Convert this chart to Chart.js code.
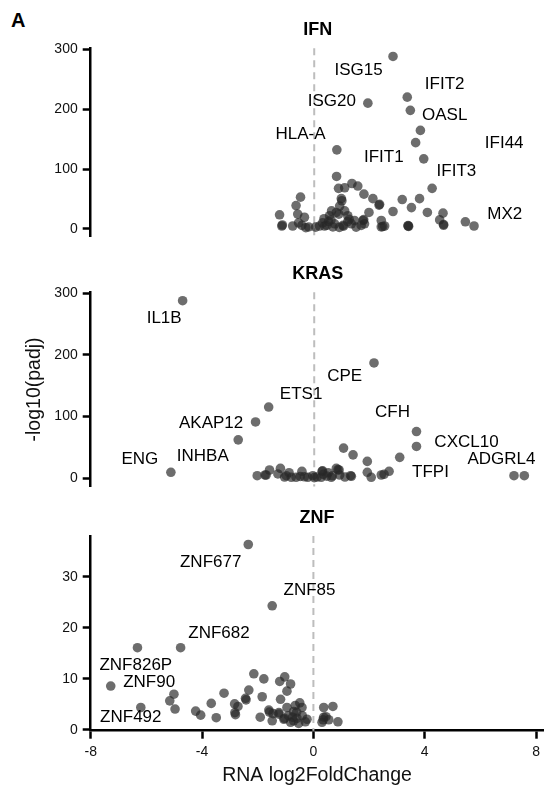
<!DOCTYPE html>
<html>
<head>
<meta charset="utf-8">
<script src="https://cdn.jsdelivr.net/npm/chart.js@4.4.1/dist/chart.umd.min.js"></script>
<style>
  html, body { margin: 0; padding: 0; background: #fff; }
  #page { position: relative; width: 545px; height: 789px; overflow: hidden; }
  canvas { position: absolute; left: 0; }
  #tag { position: absolute; left: 11px; top: 10px; font: bold 20px/20px "Liberation Sans", Arial, sans-serif; color: #000; }
</style>
</head>
<body>
<div id="page">
  <div id="tag">A</div>
  <canvas id="ifn" width="545" height="250" style="top:0"></canvas>
  <canvas id="kras" width="545" height="250" style="top:250px"></canvas>
  <canvas id="znf" width="545" height="289" style="top:500px"></canvas>
</div>
<script>
// shared x axis
const xTicks = [-8, -4, 0, 4, 8];

// IFN panel
const ifnX = [2.82, 1.92, 3.33, 3.44, 3.80, 3.63, 3.92, 0.81, 0.80, 4.22, 3.77, 3.15, 3.48, 2.82, 4.05, 4.61, 4.49, 4.63, 4.63,
  3.36, 3.36, 3.38, 5.41, 5.72, 2.40, 2.40, 2.45, 2.32, 2.34, 2.10, 1.78, 1.56, 1.35, 1.09, 0.87, 0.97, 0.99, 0.91, 0.79,
  1.96, 1.75, 1.77, 1.80, 1.44, 1.20, 1.33, 1.03, 1.05, 0.73, 0.55, 0.37, 0.19, 0.67, 0.51, -0.49, -0.65, -0.59, -0.35,
  -1.24, -1.16, -1.14, -0.77, -0.44, -0.20, -0.56, 2.52, 1.68, 0.88, 1.09, 0.30, 0.45, 0.60, 1.25, 1.50, 0.05, -0.30,
  0.90, 1.20, 0.35, 0.62];
const ifnY = [288, 210, 220, 198, 164.5, 144, 117, 132, 87.6, 67.7, 50.5, 49, 35.5, 29, 27.4, 26.3, 15, 7.4, 6,
  4.8, 5.5, 4.2, 11.8, 4.8, 14, 3.2, 4, 39.7, 41, 50.5, 58, 71.5, 75.8, 68.7, 67.7, 50.5, 47, 38, 27.4,
  27.4, 14, 15.5, 8.5, 14, 22, 8.5, 5.8, 4.5, 8.5, 22, 4.8, 4.8, 3.2, 12.3, 53, 39, 24.7, 19.4,
  23.5, 4.8, 6.5, 4.8, 5.8, 3.2, 10, 4.8, 5.8, 24.7, 30, 10, 6, 15, 16, 3, 3, 2,
  2.5, 12, 17, 30];
const ifnGenes = ["ISG15", "IFIT2", "ISG20", "OASL", "HLA-A", "IFI44", "IFIT1", "IFIT3", "MX2"];
const ifnGeneX = [1.59, 4.67, 0.63, 4.67, -0.49, 6.80, 2.49, 5.09, 6.82];
const ifnGeneY = [264, 241, 213, 190, 158, 143, 119, 96, 24.7];

// KRAS panel
const krasX = [-4.71, -1.63, -2.10, -2.72, -5.13, 2.14, 3.66, 3.66, 3.06, 7.15, 7.52, 1.05, 1.39, 1.90, 2.68, 2.40, 2.04,
  1.90, 1.30, 0.89, 0.28, -2.04, -1.72, -1.60, -1.21, -1.06, -0.82, -0.44, -0.23, 0.25, 0.61, 0.79, 1.33, -1.00, -0.65,
  -0.05, 0.32, 0.91, -1.76, -1.30, -0.50, 0.10, 0.45, 0.30, 0.85, -0.35, 0.65, 1.10, 2.50, -0.90, 0.00, 0.50];
const krasY = [288, 115.5, 91.3, 62.3, 9.7, 187, 75.8, 51.6, 33.9, 4.2, 4.2, 48.9, 38, 27.4, 11.3, 5.3, 1.6,
  9.7, 4.2, 13.4, 11.3, 4.2, 5.3, 13.4, 16, 2, 1.6, 11.3, 1.6, 1.6, 1.6, 16, 3.2, 4.2, 1.6,
  4.2, 6.3, 5.3, 5.3, 7, 3, 2, 3.5, 12, 14, 2.5, 4, 2, 6.5, 9, 1, 9];
const krasGenes = ["IL1B", "CPE", "ETS1", "AKAP12", "INHBA", "ENG", "CFH", "CXCL10", "TFPI", "ADGRL4"];
const krasGeneX = [-5.37, 1.09, -0.47, -3.69, -3.99, -6.24, 2.80, 5.45, 4.16, 6.70];
const krasGeneY = [259.7, 165.5, 136, 89, 35.5, 30, 106.5, 59, 9.7, 31];

// ZNF panel
const znfX = [-2.34, -1.48, -4.77, -6.32, -7.28, -6.20, -5.01, -5.16, -4.97, -4.23, -4.05, -3.67, -3.49, -3.21, -2.83,
  -2.82, -2.80, -2.71, -2.42, -2.44, -2.32, -2.14, -1.84, -1.78, -1.91, -1.60, -1.58, -1.48, -1.18, -1.03, -1.21, -0.82,
  -0.95, -1.24, -0.95, -0.49, -0.41, -1.24, -0.71, -1.06, -1.04, -0.71, -0.59, -0.29, -0.53, -0.82, -0.23, -0.90, -0.60,
  -0.40, -0.75, 0.37, 0.70, 0.37, 0.55, 0.88, 0.31, 0.35, 0.45, -1.45, -0.65];
const znfY = [36.3, 24.3, 16.1, 16.1, 8.6, 4.4, 7.0, 5.7, 4.1, 3.7, 2.9, 5.2, 2.4, 7.2, 5.1,
  3.4, 3.0, 4.6, 5.9, 6.2, 7.8, 11.0, 6.5, 10.0, 2.5, 3.9, 3.5, 1.8, 6.0, 10.4, 9.5, 9.0,
  7.6, 3.1, 4.4, 5.3, 4.4, 3.4, 3.6, 2.1, 2.3, 1.8, 2.3, 1.6, 1.3, 1.5, 2.1, 2.8, 3.5,
  2.8, 2.5, 4.4, 4.6, 2.5, 2.0, 1.6, 1.5, 2.0, 2.6, 3.2, 4.8];
const znfGenes = ["ZNF677", "ZNF85", "ZNF682", "ZNF826P", "ZNF90", "ZNF492"];
const znfGeneX = [-3.69, -0.14, -3.39, -6.38, -5.90, -6.56];
const znfGeneY = [32.9, 27.4, 19.0, 12.7, 9.3, 2.4];

const FONT = '"Liberation Sans", Arial, Helvetica, sans-serif';
const POINT_COLOR = "rgba(40, 40, 40, 0.68)";

// dashed zero line, panel title and gene labels
const panelDecor = {
    id: "panelDecor",
    beforeDatasetsDraw(chart, args, opts) {
        const { ctx, chartArea, scales } = chart;
        const x0 = scales.x.getPixelForValue(0);
        ctx.save();
        ctx.strokeStyle = "#bdbdbd";
        ctx.lineWidth = 2;
        ctx.setLineDash([7, 5]);
        ctx.beginPath();
        ctx.moveTo(x0, chartArea.top);
        ctx.lineTo(x0, chartArea.bottom);
        ctx.stroke();
        ctx.restore();
    },
    afterDatasetsDraw(chart, args, opts) {
        const { ctx, chartArea, scales } = chart;
        ctx.save();
        ctx.fillStyle = "#000";
        ctx.textAlign = "center";
        ctx.textBaseline = "middle";
        ctx.font = `bold 18px ${FONT}`;
        ctx.fillText(opts.title, (chartArea.left + chartArea.right) / 2, chartArea.top - 18);
        ctx.font = `17px ${FONT}`;
        opts.genes.forEach((g, i) => {
            ctx.fillText(g, scales.x.getPixelForValue(opts.gx[i]), scales.y.getPixelForValue(opts.gy[i]));
        });
        ctx.restore();
    }
};

function toPoints(xs, ys) {
    return xs.map((x, i) => ({ x, y: ys[i] }));
}

function buildPanel(id, cfg) {
    return new Chart(document.getElementById(id), {
        type: "scatter",
        data: {
            datasets: [{
                data: toPoints(cfg.xs, cfg.ys),
                backgroundColor: POINT_COLOR,
                borderWidth: 0,
                pointRadius: 4.8,
                pointHoverRadius: 4.8
            }]
        },
        options: {
            responsive: false,
            animation: false,
            events: [],
            layout: { autoPadding: false, padding: { top: cfg.padTop, bottom: cfg.padBottom, left: 0, right: 0 } },
            plugins: {
                legend: { display: false },
                tooltip: { enabled: false },
                panelDecor: { title: cfg.title, genes: cfg.genes, gx: cfg.gx, gy: cfg.gy }
            },
            scales: {
                x: {
                    type: "linear",
                    display: cfg.showX,
                    min: -8,
                    max: 8.26,
                    afterBuildTicks: (s) => { s.ticks = xTicks.map((v) => ({ value: v })); },
                    afterFit: (s) => { s.height = cfg.showX ? 58.3 : 0; },
                    grid: { drawOnChartArea: false, drawTicks: true, tickLength: 8, tickColor: "#000", tickWidth: 2.5 },
                    border: { display: true, color: "#000", width: 2.5 },
                    ticks: {
                        autoSkip: false, maxRotation: 0, padding: 5, color: "#111",
                        font: { family: FONT, size: 14 },
                        callback: (v) => String(v)
                    },
                    title: {
                        display: true, text: "RNA log2FoldChange", color: "#111",
                        font: { family: FONT, size: 19.5 }, padding: { top: 0, bottom: 2 }
                    }
                },
                y: {
                    type: "linear",
                    min: cfg.yMin,
                    max: cfg.yMax,
                    afterBuildTicks: (s) => { s.ticks = cfg.yTicks.map((v) => ({ value: v })); },
                    afterFit: (s) => { s.width = 90.7; },
                    grid: { drawOnChartArea: false, drawTicks: true, tickLength: 8, tickColor: "#000", tickWidth: 2.5 },
                    border: { display: true, color: "#000", width: 2.5 },
                    ticks: {
                        autoSkip: false, padding: 5, color: "#111",
                        font: { family: FONT, size: 14 },
                        callback: (v) => String(v)
                    },
                    title: {
                        display: cfg.yTitle, text: "-log10(padj)", color: "#111",
                        font: { family: FONT, size: 19.5 }, padding: { top: 23, bottom: 0 }
                    }
                }
            }
        },
        plugins: [panelDecor]
    });
}

buildPanel("ifn", {
    xs: ifnX, ys: ifnY, genes: ifnGenes, gx: ifnGeneX, gy: ifnGeneY, title: "IFN",
    yMin: -12.9, yMax: 301.6, yTicks: [0, 100, 200, 300],
    padTop: 48.3, padBottom: 6.7, showX: false, yTitle: false
});

buildPanel("kras", {
    xs: krasX, ys: krasY, genes: krasGenes, gx: krasGeneX, gy: krasGeneY, title: "KRAS",
    yMin: -13.5, yMax: 301.6, yTicks: [0, 100, 200, 300],
    padTop: 42.3, padBottom: 12.3, showX: false, yTitle: true
});

buildPanel("znf", {
    xs: znfX, ys: znfY, genes: znfGenes, gx: znfGeneX, gy: znfGeneY, title: "ZNF",
    yMin: -0.14, yMax: 37.96, yTicks: [0, 10, 20, 30],
    padTop: 36, padBottom: 0, showX: true, yTitle: false
});
</script>
</body>
</html>
